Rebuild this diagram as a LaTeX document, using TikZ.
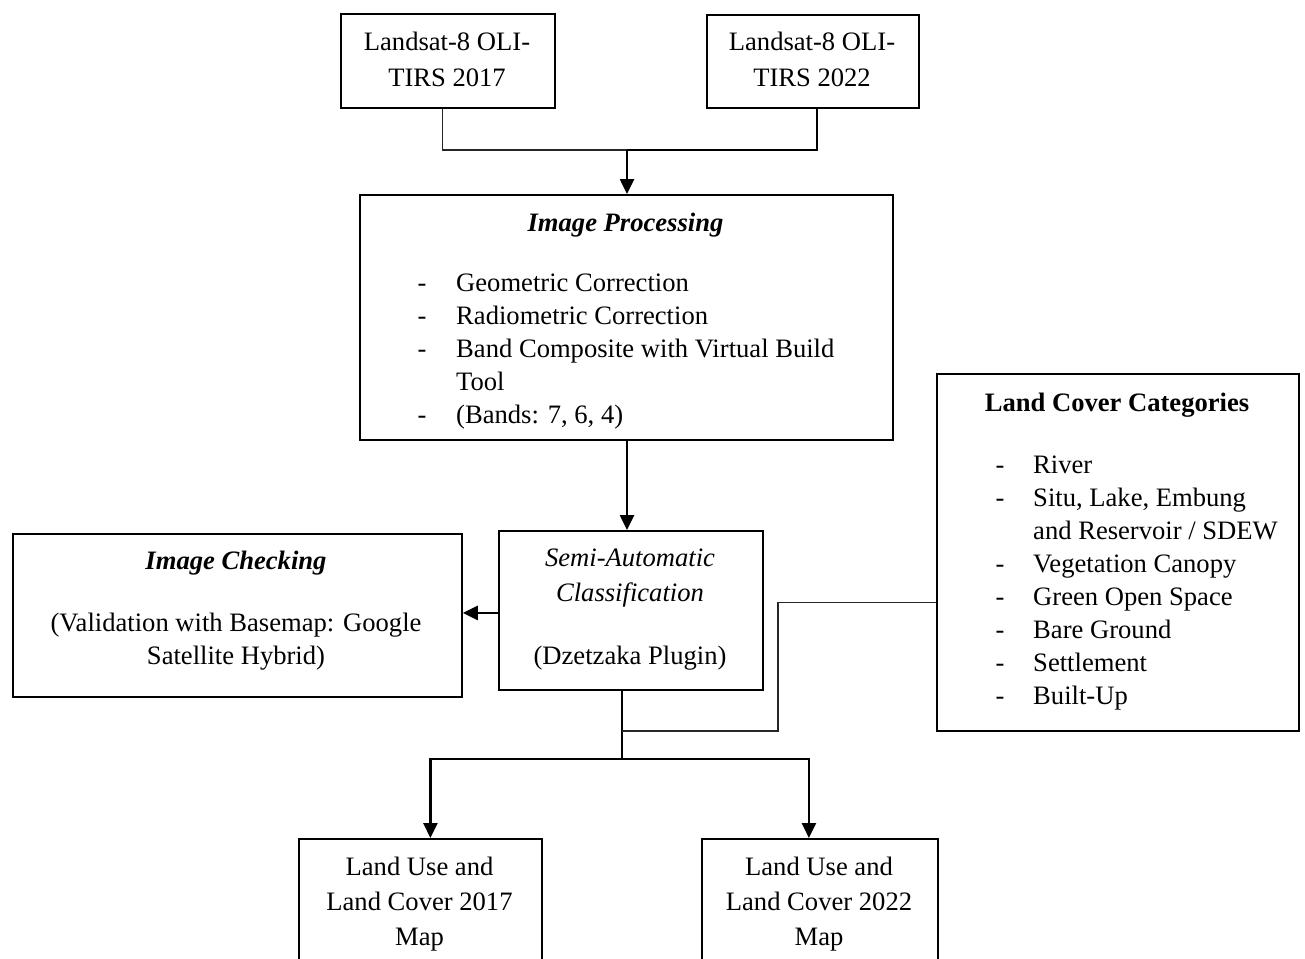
\documentclass[tikz,border=0pt]{standalone}
\usepackage{fontspec}
\setmainfont{Liberation Serif}
\usetikzlibrary{arrows.meta}
\begin{document}
\begin{tikzpicture}[x=1pt,y=-1pt,
  box/.style={draw, line width=1.8pt, inner sep=0pt, anchor=north west},
  txt/.style={inner sep=0pt, font=\fontsize{26.6}{33}\selectfont},
  thinline/.style={line width=1.1pt, draw=black!85},
  thickline/.style={line width=2.6pt},
  arr/.style={line width=2.6pt, -{Triangle[length=15pt,width=14pt]}}]
\useasboundingbox (0,0) rectangle (1305,958);
% boxes
\node[box, minimum width=214pt, minimum height=94pt] (a) at (340,13) {};
\node[box, minimum width=212pt, minimum height=93pt] (b) at (706,14) {};
\node[box, minimum width=533pt, minimum height=245pt] (c) at (359,194) {};
\node[box, minimum width=264pt, minimum height=159pt] (d) at (498,530) {};
\node[box, minimum width=449pt, minimum height=163pt] (e) at (12,533) {};
\node[box, minimum width=362pt, minimum height=357pt] (f) at (936,373) {};
\node[box, minimum width=243pt, minimum height=124pt] (g) at (298,838) {};
\node[box, minimum width=236pt, minimum height=124pt] (h) at (701,838) {};
% texts
\node[txt, anchor=base] (a1) at (447,51) {Landsat-8 OLI-};
\node[txt, anchor=base] (a2) at (447,86) {TIRS 2017};
\node[txt, anchor=base] (b1) at (812,51) {Landsat-8 OLI-};
\node[txt, anchor=base] (b2) at (812,86) {TIRS 2022};
\node[txt, anchor=base] (c0) at (625.5,231) {\textbf{\textit{Image Processing}}};
\node[txt, anchor=base] (c1d) at (422,291) {-};
\node[txt, anchor=base west] (c1) at (456,291) {Geometric Correction};
\node[txt, anchor=base] (c2d) at (422,324) {-};
\node[txt, anchor=base west] (c2) at (456,324) {Radiometric Correction};
\node[txt, anchor=base] (c3d) at (422,357) {-};
\node[txt, anchor=base west] (c3) at (456,357) {Band Composite with Virtual Build};
\node[txt, anchor=base west] (c4) at (456,390) {Tool};
\node[txt, anchor=base] (c5d) at (422,423) {-};
\node[txt, anchor=base west] (c5) at (456,423) {(Bands: 7, 6, 4)};
\node[txt, anchor=base] (d1) at (630,566) {\textit{Semi-Automatic}};
\node[txt, anchor=base] (d2) at (630,601) {\textit{Classification}};
\node[txt, anchor=base] (d3) at (630,664) {(Dzetzaka Plugin)};
\node[txt, anchor=base] (e1) at (236,569) {\textbf{\textit{Image Checking}}};
\node[txt, anchor=base] (e2) at (236,631) {(Validation with Basemap: Google};
\node[txt, anchor=base] (e3) at (236,664) {Satellite Hybrid)};
\node[txt, anchor=base] (f0) at (1117,411) {\textbf{Land Cover Categories}};
\node[txt, anchor=base] (f1d) at (1000,473) {-};
\node[txt, anchor=base west] (f1) at (1033,473) {River};
\node[txt, anchor=base] (f2d) at (1000,506) {-};
\node[txt, anchor=base west] (f2) at (1033,506) {Situ, Lake, Embung};
\node[txt, anchor=base west] (f3) at (1033,539) {and Reservoir / SDEW};
\node[txt, anchor=base] (f4d) at (1000,572) {-};
\node[txt, anchor=base west] (f4) at (1033,572) {Vegetation Canopy};
\node[txt, anchor=base] (f5d) at (1000,605) {-};
\node[txt, anchor=base west] (f5) at (1033,605) {Green Open Space};
\node[txt, anchor=base] (f6d) at (1000,638) {-};
\node[txt, anchor=base west] (f6) at (1033,638) {Bare Ground};
\node[txt, anchor=base] (f7d) at (1000,671) {-};
\node[txt, anchor=base west] (f7) at (1033,671) {Settlement};
\node[txt, anchor=base] (f8d) at (1000,704) {-};
\node[txt, anchor=base west] (f8) at (1033,704) {Built-Up};
\node[txt, anchor=base] (g1) at (419.5,875) {Land Use and};
\node[txt, anchor=base] (g2) at (419.5,910) {Land Cover 2017};
\node[txt, anchor=base] (g3) at (419.5,945) {Map};
\node[txt, anchor=base] (h1) at (819,875) {Land Use and};
\node[txt, anchor=base] (h2) at (819,910) {Land Cover 2022};
\node[txt, anchor=base] (h3) at (819,945) {Map};
% connectors
\coordinate (j1) at (627,150);
\draw[thinline] ([xshift=-5pt]a.south) |- (j1);
\draw[thickline] ([xshift=4pt]b.south) |- (j1);
\draw[arr] (j1) -- (j1 |- c.north);
\draw[arr] (c.south -| j1) -- (d.north -| j1);
\draw[arr] ([yshift=-2.5pt]d.west) -- ([yshift=-2.5pt]d.west -| e.east);
\coordinate (bus) at (622,759);
\draw[thickline] (d.south -| bus) -- (bus);
\draw[arr] (bus) -| ([xshift=10pt]g.north);
\draw[arr] (bus) -| ([xshift=-11pt]h.north);
\coordinate (fin) at ([yshift=-50.5pt]f.west);
\coordinate (k) at (778,731);
\draw[thinline] (fin) -| (k) -- (k -| bus);
\end{tikzpicture}
\end{document}
